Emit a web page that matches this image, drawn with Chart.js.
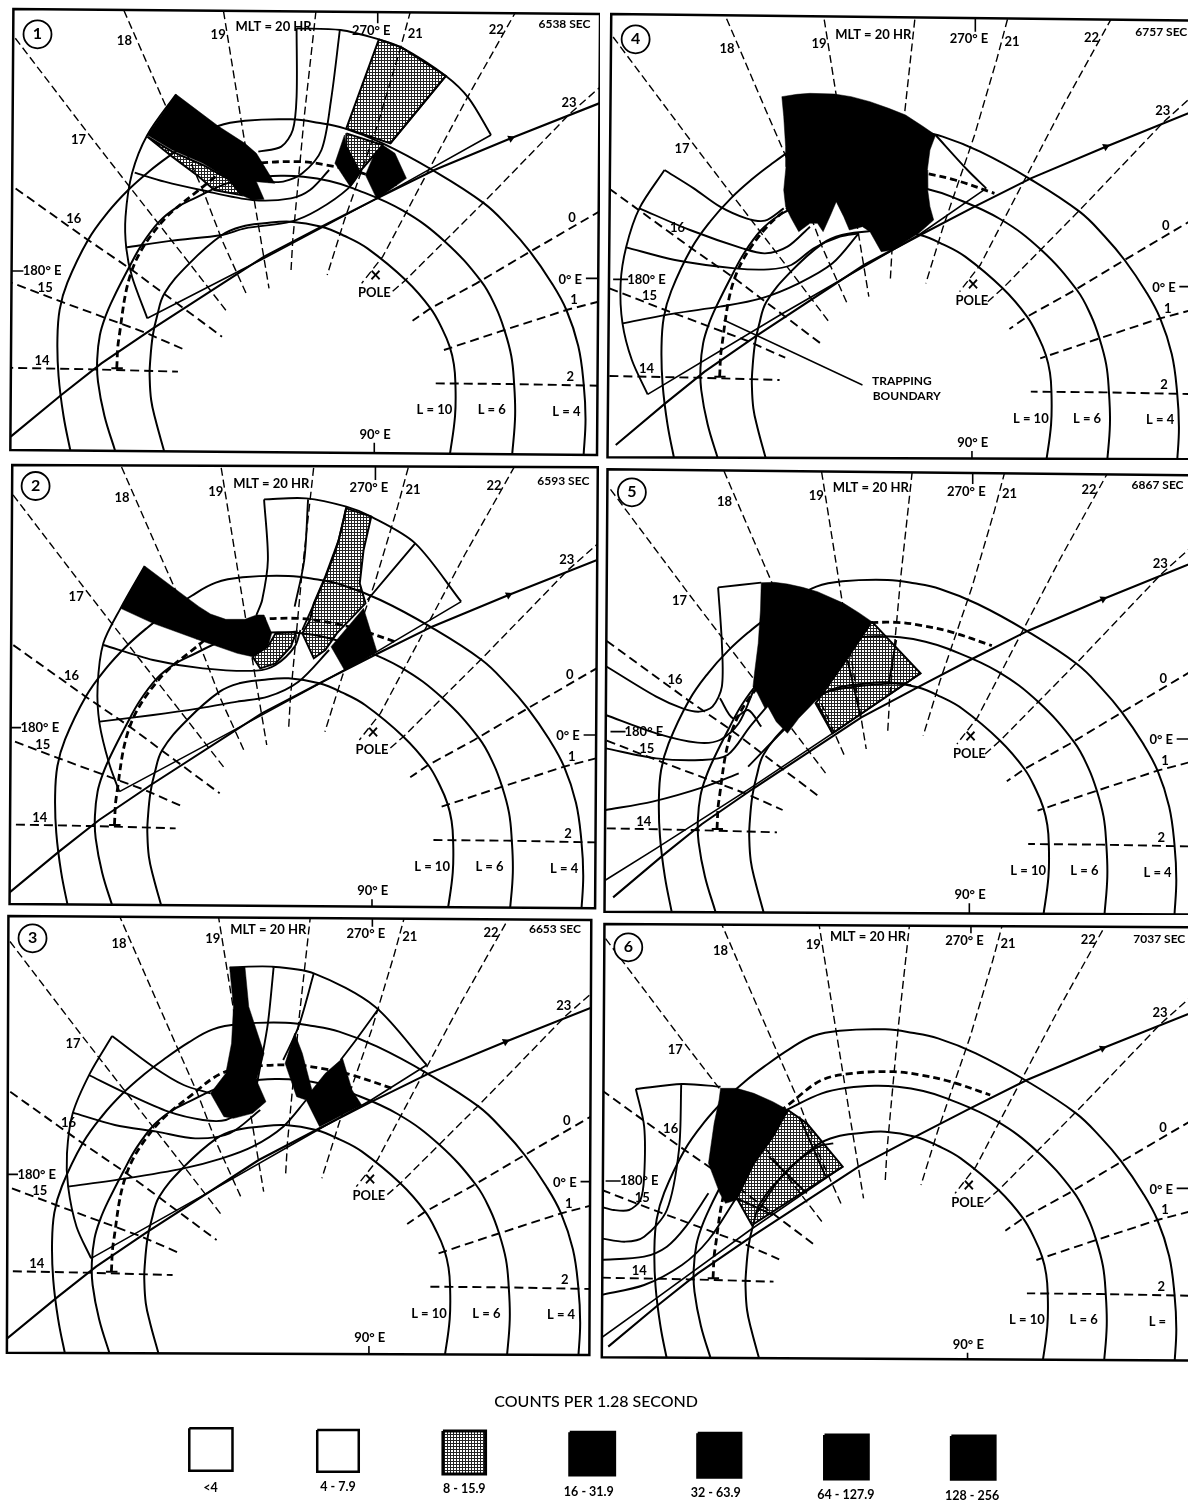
<!DOCTYPE html>
<html>
<head>
<meta charset="utf-8">
<title>Counts per 1.28 second</title>
<script src="https://cdn.jsdelivr.net/npm/chart.js@4/dist/chart.umd.min.js"></script>
<style>
  html, body { margin: 0; padding: 0; background: #fff; }
  #page { position: relative; width: 1188px; height: 1502px; overflow: hidden; }
  canvas { position: absolute; }
</style>
</head>
<body>
<div id="page"></div>
<script>
// all map curves, relative to the POLE cross (units: crop px, y down)
const shellL4 = [[-796,530],[-815,420],[-828,300],[-831,192],[-825,100],[-805,20],[-751,-108],[-700,-190],[-646,-258],[-590,-315],[-541,-358],[-475,-410],[-411,-450],[-341,-466],[-221,-470],[-150,-460],[-81,-443],[19,-398],[149,-318],[284,-218],[350,-145],[404,-73],[460,20],[499,102],[530,210],[544,322],[549,430],[544,537]];
const shellL6 = [[-680,525],[-708,420],[-725,317],[-727,250],[-720,177],[-705,120],[-685,67],[-645,-23],[-610,-95],[-565,-163],[-520,-205],[-473,-233],[-388,-278],[-320,-295],[-248,-301],[-188,-298],[-120,-285],[-58,-263],[72,-196],[182,-103],[277,17],[315,95],[337,162],[355,240],[362,317],[365,420],[357,540]];
const shellL10 = [[-551,530],[-575,430],[-586,372],[-590,300],[-589,262],[-582,180],[-571,122],[-551,52],[-486,-38],[-401,-123],[-350,-148],[-291,-158],[-221,-163],[-141,-148],[-80,-120],[-21,-83],[79,12],[144,97],[175,160],[194,212],[205,265],[209,322],[208,420],[194,540]];
const trapBoundary = [[-676,277],[-671,192],[-636,-18],[-561,-158],[-461,-258],[-388,-318],[-308,-338],[-198,-343],[-128,-333],[-48,-313],[57,-273]];
const orbitPath = [[-953,482],[-821,357],[-716,262],[-581,157],[-291,-58],[-141,-148],[4,-233],[154,-318],[354,-413],[600,-525]];
const orbitArrow = [[354,-413]];
const trapFoot = [[-690,277],[-660,277]];

const mlt14 = [[-970,275],[-741,280],[-516,287]];
const mlt15 = [[-970,12],[-821,77],[-601,170],[-501,220]];
const mlt16 = [[-970,-287],[-751,-108],[-636,-18],[-501,97],[-401,182]];
const mlt17 = [[-960,-742],[-751,-428],[-646,-273],[-486,-38],[-386,110]];
const mlt18 = [[-670,-830],[-551,-518],[-451,-258],[-401,-108],[-336,57]];
const mlt19 = [[-402,-830],[-351,-468],[-311,-188],[-278,37]];
const mlt20 = [[-152,-830],[-186,-478],[-216,-108],[-221,-8]];
const mlt21 = [[100,-830],[64,-678],[4,-448],[-81,-168],[-126,-3]];
const mlt22 = [[385,-830],[239,-533],[144,-328],[19,-58],[-36,22]];
const mlt23 = [[620,-600],[509,-488],[289,-228],[79,12],[39,52]];
const mlt0 = [[620,-217],[404,-73],[264,22],[144,97],[97,134]];
const mlt1 = [[620,66],[499,102],[324,167],[179,222]];
const mlt2 = [[620,330],[349,324],[154,322]];

const tickTop = [[6,-800],[6,-758]];
const tickBottom = [[-3,500],[-3,540]];
const tick180 = [[-960,-15],[-920,-15]];
const tick0 = [[550,7],[600,7]];

const mapTexts = ['18','19','MLT = 20 HR','270° E','21','22','23','17','16','180° E','15','14','0','0° E','1','2','POLE','L = 10','L = 6','90° E'];
const mapTextX = [-656,-411,-266,-11,104,316,506,-776,-788,-871,-863,-871,514,509,519,509,-3,154,304,-1];
const mapTextY = [-706,-723,-748,-736,-728,-740,-520,-408,-171,-15,35,254,-175,10,72,302,50,402,402,475];
const lastShellTextX = 499, lastShellTextY = 407;

// panel 1
const frame1 = [[35,27],[1568,42],[1560,1365],[27,1350]];
const black1a = [[460,283],[570,378],[640,430],[670,460],[718,550],[670,545],[690,598],[660,600],[630,585],[600,540],[530,490],[450,450],[385,405]];
const black1b = [[900,405],[875,490],[915,560],[945,510],[905,440]];
const black1c = [[1000,435],[1032,460],[1062,535],[985,598],[955,525],[975,470]];
const stipple1a = [[385,410],[450,455],[530,495],[600,540],[630,585],[560,570],[520,530],[450,470]];
const stipple1b = [[990,118],[1050,143],[1165,228],[1020,430],[905,385]];
const stipple1c = [[905,400],[1000,435],[940,515],[905,440]];
const swath1 = [
  [[775,85],[775,290],[765,390],[735,440],[675,455]],
  [[888,90],[865,300],[840,450],[790,520],[740,545],[700,545]],
  [[775,85],[890,90],[990,118],[1050,143],[1165,228],[1225,295],[1283,405]],
  [[1165,228],[1020,430]],
  [[352,518],[430,545],[525,570],[660,600],[760,595],[810,570],[860,510]],
  [[330,742],[450,722],[580,705],[640,685],[760,665],[830,630],[910,565],[945,510]],
  [[460,283],[385,405],[345,520],[328,650],[330,745],[345,830],[385,955]],
];
const edge1 = [[385,955],[690,775],[985,595],[1065,545],[1283,405]];

// panel 2
const frame2 = [[32,15],[1562,22],[1555,1345],[25,1332]];
const black2a = [[378,318],[315,445],[400,490],[520,540],[620,580],[660,590],[700,560],[710,520],[690,465],[670,465],[640,478],[590,478],[550,462],[520,440],[450,380]];
const black2b = [[950,445],[985,575],[900,630],[865,560]];
const stipple2a = [[660,590],[700,560],[720,520],[775,515],[760,560],[720,610],[680,625]];
const stipple2b = [[905,145],[970,170],[950,270],[940,370],[955,430],[880,520],[850,570],[820,595],[790,520],[810,480],[820,430],[850,350],[885,240]];
const swath2 = [
  [[690,118],[800,115],[905,140],[970,170],[1085,250],[1205,425]],
  [[690,118],[700,300],[685,420],[670,465]],
  [[805,118],[795,300],[770,440]],
  [[905,140],[880,260],[840,380],[790,510]],
  [[1085,250],[960,420]],
  [[378,318],[315,445],[270,550],[255,680],[260,790],[285,910],[312,995]],
  [[270,555],[400,600],[530,625],[670,632],[720,615],[770,560],[785,510]],
  [[260,785],[400,765],[520,745],[620,725],[700,710],[780,665],[860,570]],
];
const edge2 = [[312,995],[620,805],[900,630],[985,575],[1205,425]];

// panel 3
const frame3 = [[22,18],[1545,30],[1540,1335],[18,1328]];
const black3a = [[600,172],[640,170],[650,290],[690,430],[675,490],[670,510],[695,575],[660,610],[610,625],[585,620],[550,550],[590,490],[605,400],[610,290]];
const black3b = [[770,370],[790,430],[815,540],[850,490],[895,445],[920,540],[945,585],[835,650],[800,570],[775,560],[745,460]];
const swath3 = [
  [[600,172],[710,170],[820,190],[980,290],[1115,465]],
  [[293,378],[235,490],[190,610],[175,730],[178,830],[200,950],[238,1045]],
  [[293,378],[400,470],[480,525],[550,550]],
  [[232,495],[330,550],[440,605],[530,630],[590,630],[650,590]],
  [[190,608],[300,645],[410,665],[510,685],[600,670],[680,600]],
  [[178,830],[330,805],[480,775],[580,745],[660,710],[740,650],[800,570]],
  [[715,172],[700,340],[680,470],[670,530]],
  [[820,190],[780,350],[740,450]],
  [[990,295],[930,390],[890,450]],
];
const edge3 = [[238,1045],[540,850],[830,660],[970,570],[1115,465]];

// panel 4
const frame4 = [[30,42],[1620,62],[1620,1378],[20,1372]];
const black4 = [[485,290],[525,283],[560,280],[625,282],[670,290],[720,305],[770,325],[815,345],[860,378],[895,405],[880,450],[873,510],[874,570],[880,620],[890,660],[850,700],[780,750],[750,755],[735,725],[720,695],[700,680],[665,690],[650,650],[630,605],[615,645],[595,695],[580,670],[560,670],[530,695],[510,655],[495,620],[490,570],[496,500],[495,440],[490,350]];
const swath4 = [
  [[172,510],[105,625],[70,740],[55,850],[60,970],[85,1080],[127,1183]],
  [[172,510],[250,565],[320,620],[390,655],[440,662],[490,625]],
  [[105,625],[240,690],[380,745],[440,760],[500,740],[560,680]],
  [[70,742],[200,780],[360,805],[450,808],[510,795],[570,745],[640,710],[690,700]],
  [[60,970],[200,940],[320,920],[430,895],[530,850],[620,790],[690,700]],
  [[895,405],[980,510],[1030,565]],
];
const edge4 = [[127,1183],[480,945],[850,705],[1030,565]];
const pointer4 = [[330,960],[700,1155]];
const pointerTexts = ['TRAPPING','BOUNDARY'];
const pointerX = [805,818];
const pointerY = [1143,1187];

// panel 5
const frame5 = [[20,28],[1620,46],[1620,1364],[12,1355]];
const black5 = [[430,368],[465,367],[500,372],[540,382],[580,395],[650,430],[690,458],[725,485],[700,530],[670,575],[650,610],[585,710],[560,740],[530,775],[500,820],[470,785],[448,740],[440,745],[420,700],[408,680],[412,640],[422,550],[428,450]];
const stipple5 = [[725,485],[855,640],[620,820],[575,730],[650,610]];
const swath5 = [
  [[315,382],[430,368]],
  [[315,382],[325,550],[325,680],[300,740],[265,755],[220,745],[150,710],[15,618]],
  [[15,765],[150,820],[260,848],[320,840],[370,790],[410,690]],
  [[15,865],[150,895],[270,900],[340,885],[400,800],[445,740]],
  [[15,1050],[140,1025],[280,980],[370,940]],
  [[395,920],[490,810],[585,705],[680,680],[790,670],[830,675]],
  [[580,730],[620,820]],
  [[660,600],[695,770]],
  [[790,540],[770,670]],
  [[320,715],[355,775],[395,750],[430,800]],
];
const edge5 = [[15,1260],[150,1165],[400,985],[620,820],[855,640]];

// panel 6
const frame6 = [[25,42],[1620,52],[1620,1352],[18,1342]];
const black6 = [[332,535],[375,535],[420,550],[470,575],[510,600],[470,680],[420,760],[375,870],[345,880],[330,850],[300,760],[315,640],[328,570]];
const stipple6 = [[510,600],[560,640],[655,770],[415,945],[375,865],[420,760],[470,680]];
const swath6 = [
  [[108,537],[230,522],[332,530]],
  [[108,537],[130,650],[130,800],[120,870],[90,900],[50,900],[15,890]],
  [[228,522],[222,720],[190,900],[130,980],[80,995],[15,985]],
  [[15,1050],[130,1040],[190,1010],[240,950],[300,850]],
  [[15,1155],[130,1125],[230,1065],[300,990],[370,870]],
  [[540,620],[610,800]],
  [[430,905],[500,790],[590,710],[630,700]],
  [[460,740],[560,850]],
  [[375,865],[470,915]],
];
const edge6 = [[15,1285],[150,1175],[410,960],[655,770]];

// legend
const legendTitle = 'COUNTS PER 1.28 SECOND';
const legendLabels = ['<4','4 - 7.9','8 - 15.9','16 - 31.9','32 - 63.9','64 - 127.9','128 - 256'];
const legendLabelX = [108,335,560,782,1008,1240,1465];
const legendLabelY = [325,322,328,335,340,345,348];
const legendBoxes = [
  [[70,145],[147,145],[147,272],[70,272]],
  [[298,150],[372,150],[372,275],[298,275]],
  [[522,153],[598,153],[598,282],[522,282]],
  [[748,157],[828,157],[828,285],[748,285]],
  [[976,160],[1053,160],[1053,292],[976,292]],
  [[1202,165],[1280,165],[1280,297],[1202,297]],
  [[1428,168],[1506,168],[1506,298],[1428,298]],
];
const legendKinds = ['open','open','stipple','solid','solid','solid','solid'];

const FONT = 'Lato, "Liberation Sans", sans-serif';
const YSCALE = 3; // crops read at 3 units per px vertically

// 50% dither like the halftone screen in the scan
function stipplePattern() {
  const c = document.createElement('canvas');
  c.width = 3; c.height = 3;
  const g = c.getContext('2d');
  g.fillStyle = '#fff'; g.fillRect(0, 0, 3, 3);
  g.fillStyle = '#222';
  g.fillRect(0, 0, 3, 1);
  g.fillRect(0, 0, 1, 3);
  return g.createPattern(c, 'repeat');
}
const stipple = stipplePattern();

const toXY = (pts) => pts.map(p => ({ x: p[0], y: p[1] }));
const closed = pts => pts.concat([pts[0]]);

function line(pts, width, opts) {
  return Object.assign({ data: toXY(pts), showLine: true, borderColor: '#000', borderWidth: width, pointRadius: 0, fill: false, tension: 0, borderCapStyle: 'butt' }, opts || {});
}
function shape(pts, bg, border) {
  return { data: toXY(closed(pts)), showLine: true, borderColor: '#000', borderWidth: border, backgroundColor: bg, pointRadius: 0, fill: 'shape', tension: 0 };
}
function mapLine(pts, pole, width, opts) {
  return line(pts.map(p => [p[0] + pole[0], p[1] + pole[1]]), width, opts);
}

// text and the panel frame go through the same scales as the data
const panelPlugin = {
  id: 'panelPlugin',
  beforeDatasetsDraw(chart) {
    const o = chart.options.plugins.panelPlugin;
    if (!o.frame) return;
    chart.ctx.save();
    tracePath(chart, o.frame);
    chart.ctx.clip();
  },
  afterDatasetsDraw(chart) {
    const o = chart.options.plugins.panelPlugin;
    const ctx = chart.ctx;
    if (o.frame) {
      ctx.restore();
      tracePath(chart, o.frame);
      ctx.lineWidth = 2.5;
      ctx.strokeStyle = '#000';
      ctx.stroke();
    }
    ctx.fillStyle = '#000';
    ctx.textAlign = 'center';
    ctx.textBaseline = 'middle';
    o.texts.forEach(t => {
      ctx.font = t.font;
      ctx.fillText(t.text, chart.scales.x.getPixelForValue(t.x), chart.scales.y.getPixelForValue(t.y));
    });
  },
};
function tracePath(chart, pts) {
  const ctx = chart.ctx;
  ctx.beginPath();
  pts.forEach((p, i) => {
    const x = chart.scales.x.getPixelForValue(p[0]);
    const y = chart.scales.y.getPixelForValue(p[1]);
    if (i) ctx.lineTo(x, y); else ctx.moveTo(x, y);
  });
  ctx.closePath();
}

function draw(crop, zoom, datasets, texts, frame) {
  const canvas = document.createElement('canvas');
  canvas.width = crop[2];
  canvas.height = crop[3];
  canvas.style.left = crop[0] + 'px';
  canvas.style.top = crop[1] + 'px';
  document.getElementById('page').appendChild(canvas);
  // later datasets on top
  datasets.forEach((d, i) => { d.order = datasets.length - i; });
  new Chart(canvas, {
    type: 'scatter',
    data: { datasets },
    options: {
      responsive: false,
      animation: false,
      events: [],
      layout: { padding: 0, autoPadding: false },
      scales: {
        x: { type: 'linear', display: false, min: 0, max: crop[2] * zoom },
        y: { type: 'linear', display: false, reverse: true, min: 0, max: crop[3] * YSCALE },
      },
      plugins: { legend: { display: false }, tooltip: { enabled: false }, panelPlugin: { frame, texts } },
    },
    plugins: [panelPlugin],
  });
}

function drawPanel(cfg) {
  const pole = cfg.pole;
  const thin = { borderDash: [8, 4] };
  const heavy = { borderDash: [9, 5] };
  const datasets = [];
  cfg.blacks.forEach(p => datasets.push(shape(p, '#000', 0.5)));
  cfg.stipples.forEach(p => datasets.push(shape(p, stipple, 2)));
  [mlt17, mlt18, mlt19, mlt20, mlt21, mlt22, mlt23].forEach(m => datasets.push(mapLine(m, pole, 1.4, thin)));
  [mlt14, mlt15, mlt16, mlt0, mlt1, mlt2].forEach(m => datasets.push(mapLine(m, pole, 1.9, heavy)));
  [shellL4, shellL6, shellL10].forEach(s => datasets.push(mapLine(s, pole, 2, { tension: 0.4 })));
  datasets.push(mapLine(trapBoundary, pole, 2.8, { tension: 0.35, borderDash: [7, 4] }));
  datasets.push(mapLine(orbitPath, pole, 2.1));
  datasets.push(mapLine(trapFoot, pole, 2));
  datasets.push(mapLine(orbitArrow, pole, 0, { showLine: false, pointRadius: 4.5, pointStyle: 'triangle', pointRotation: 65, pointBackgroundColor: '#000', pointBorderColor: '#000' }));
  [tickTop, tickBottom, tick180, tick0].forEach(t => datasets.push(mapLine(t, pole, 1.6)));
  cfg.swath.forEach(s => datasets.push(line(s, 1.9, { tension: 0.3 })));
  datasets.push(line(cfg.edge, 1.6, { tension: 0 }));
  (cfg.extra || []).forEach(d => datasets.push(d));
  // number in a circle
  datasets.push(line([cfg.badge], 0, { showLine: false, pointRadius: 14, pointBorderWidth: 1.8, pointBackgroundColor: '#fff', pointBorderColor: '#000' }));

  const small = '700 13px ' + FONT;
  const texts = mapTexts.map((t, i) => ({ text: t, x: mapTextX[i] + pole[0], y: mapTextY[i] + pole[1], font: small }));
  texts.push({ text: cfg.lastShell, x: lastShellTextX + pole[0], y: lastShellTextY + pole[1], font: small });
  texts.push({ text: '×', x: pole[0], y: pole[1], font: '700 20px ' + FONT });
  texts.push({ text: cfg.secs, x: cfg.secsAt[0], y: cfg.secsAt[1], font: '700 12px ' + FONT });
  texts.push({ text: cfg.num, x: cfg.badge[0], y: cfg.badge[1], font: '700 16px ' + FONT });
  (cfg.moreTexts || []).forEach(t => texts.push(t));
  draw(cfg.crop, cfg.zoom, datasets, texts, cfg.frame);
}

drawPanel({ num: '1', secs: '6538 SEC', secsAt: [1475, 72], crop: [0, 0, 600, 460], zoom: 2.613, pole: [981, 828], badge: [98, 103], frame: frame1, lastShell: 'L = 4', blacks: [black1a, black1b, black1c], stipples: [stipple1a, stipple1b, stipple1c], swath: swath1, edge: edge1 });
drawPanel({ num: '2', secs: '6593 SEC', secsAt: [1472, 62], crop: [0, 460, 600, 455], zoom: 2.613, pole: [975, 818], badge: [93, 78], frame: frame2, lastShell: 'L = 4', blacks: [black2a, black2b], stipples: [stipple2a, stipple2b], swath: swath2, edge: edge2 });
drawPanel({ num: '3', secs: '6653 SEC', secsAt: [1450, 58], crop: [0, 910, 600, 455], zoom: 2.613, pole: [967, 808], badge: [85, 85], frame: frame3, lastShell: 'L = 4', blacks: [black3a, black3b], stipples: [], swath: swath3, edge: edge3 });
drawPanel({ num: '4', secs: '6757 SEC', secsAt: [1497, 97], crop: [600, 0, 588, 460], zoom: 2.667, pole: [995, 853], badge: [95, 118], frame: frame4, lastShell: 'L = 4', blacks: [black4], stipples: [], swath: swath4, edge: edge4,
  extra: [line(pointer4, 1.4)],
  moreTexts: pointerTexts.map((t, i) => ({ text: t, x: pointerX[i], y: pointerY[i], font: '700 12px ' + FONT })) });
drawPanel({ num: '5', secs: '6867 SEC', secsAt: [1487, 75], crop: [600, 460, 588, 455], zoom: 2.667, pole: [988, 830], badge: [85, 97], frame: frame5, lastShell: 'L = 4', blacks: [black5], stipples: [stipple5], swath: swath5, edge: edge5 });
drawPanel({ num: '6', secs: '7037 SEC', secsAt: [1492, 88], crop: [595, 910, 593, 455], zoom: 2.644, pole: [988, 828], badge: [88, 112], frame: frame6, lastShell: 'L =', blacks: [black6], stipples: [stipple6], swath: swath6, edge: edge6 });

// legend strip under the panels
const legendSets = legendBoxes.map((box, i) => {
  const kind = legendKinds[i];
  const bg = kind === 'solid' ? '#000' : kind === 'stipple' ? stipple : '#fff';
  return shape(box, bg, kind === 'open' ? 2.5 : 3);
});
const legendTexts = legendLabels.map((t, i) => ({ text: t, x: legendLabelX[i], y: legendLabelY[i], font: '700 12.5px ' + FONT }));
legendTexts.push({ text: legendTitle, x: 795, y: 65, font: '500 16px ' + FONT });
draw([150, 1380, 880, 122], 1.782, legendSets, legendTexts, null);
</script>
</body>
</html>
